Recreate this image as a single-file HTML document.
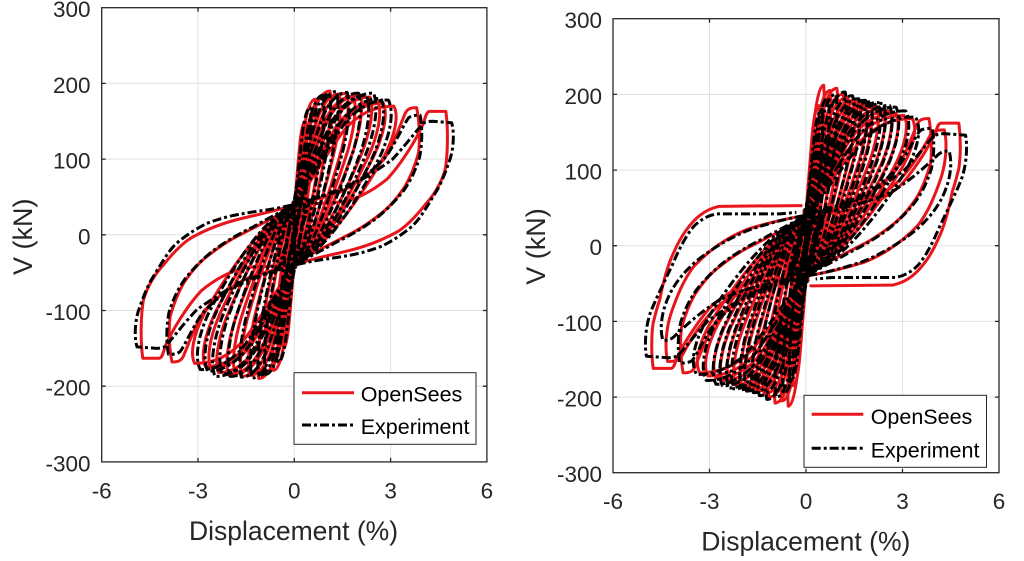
<!DOCTYPE html>
<html>
<head>
<meta charset="utf-8">
<style>
  html,body{margin:0;padding:0;background:#fff;}
  svg{display:block;}
  text{font-family:"Liberation Sans",Arial,sans-serif;fill:#262626;}
  .tk{font-size:22.5px;}
  .lab{font-size:26.5px;}
  .ylab{font-size:27px;}
  .leg{font-size:21.5px;fill:#000;}
  .r{fill:none;stroke:#e8161c;stroke-width:3;stroke-linejoin:round;stroke-linecap:round;}
  .k{fill:none;stroke:#000;stroke-width:3;stroke-dasharray:9 3 3 3;stroke-linejoin:round;}
  .grid{stroke:#e0e0e0;stroke-width:1;}
  .ax{fill:none;stroke:#262626;stroke-width:1.3;}
</style>
</head>
<body>
<svg width="1024" height="561" viewBox="0 0 1024 561" xmlns="http://www.w3.org/2000/svg">
<defs>
  <path id="rp" vector-effect="non-scaling-stroke" d="M0,40 C0.1,62 0.3,112 0.5,150 C0.63,172 0.8,185 1,185 C1.05,172 1.02,145 0.9,112 C0.74,72 0.52,25 0.32,-5 C0.2,-22 0.08,-34 0,-40"/>
  <path id="bp" vector-effect="non-scaling-stroke" d="M0,40 C0.12,64 0.33,114 0.53,152 C0.66,173 0.83,186 1,185 C1.06,170 1.03,142 0.92,110 C0.76,68 0.54,22 0.34,-7 C0.22,-24 0.1,-35 0,-40"/>
  <path id="knr" vector-effect="non-scaling-stroke" d="M-0.35,-55 L0.3,55 M-0.2,-60 L0.2,60 M-0.45,-45 L0.1,45 M-0.1,-55 L0.35,45 M-0.6,-50 C-0.3,-20 0,20 0.25,35 M0.05,-42 L-0.05,42"/>
  <path id="knb" vector-effect="non-scaling-stroke" d="M-0.3,-58 L0.28,58 M-0.15,-50 L0.25,52 M-0.5,-48 L0.12,48 M-0.05,-58 L0.38,40 M0.02,-45 L-0.02,45"/>
</defs>

<rect width="1024" height="561" fill="#fff"/>

<!-- ============ LEFT PLOT ============ -->
<g>
  <line class="grid" x1="198" y1="7.7" x2="198" y2="461.9"/>
  <line class="grid" x1="294.3" y1="7.7" x2="294.3" y2="461.9"/>
  <line class="grid" x1="390.6" y1="7.7" x2="390.6" y2="461.9"/>
  <line class="grid" x1="101.7" y1="83.4" x2="486.9" y2="83.4"/>
  <line class="grid" x1="101.7" y1="159.1" x2="486.9" y2="159.1"/>
  <line class="grid" x1="101.7" y1="234.8" x2="486.9" y2="234.8"/>
  <line class="grid" x1="101.7" y1="310.5" x2="486.9" y2="310.5"/>
  <line class="grid" x1="101.7" y1="386.2" x2="486.9" y2="386.2"/>

  <g transform="matrix(32.1 0 0 -0.757 294.3 234.8)">
    <g id="redL" class="r">
      <use href="#knr"/>
      <use href="#rp" transform="scale(0.35,0.811)"/>
      <use href="#rp" transform="scale(0.65,0.968)"/>
      <use href="#rp" transform="scale(0.9,0.984)"/>
      <use href="#rp" transform="scale(1.11,1.027)"/>
      <use href="#rp" transform="scale(1.4,1.005)"/>
      <use href="#rp" transform="scale(1.64,1.011)"/>
      <use href="#rp" transform="scale(1.85,0.989)"/>
      <use href="#rp" transform="scale(2.05,1.0)"/>
      <use href="#rp" transform="scale(2.36,0.984)"/>
      <use href="#rp" transform="scale(2.6,0.951)"/>
      <use href="#rp" transform="scale(2.77,0.941)"/>
      <use href="#rp" transform="scale(3.1,0.919)"/>
      <path vector-effect="non-scaling-stroke" d="M0,40 C0.5,45 1.0,50 1.4,56 C1.9,66 2.4,82 2.8,100 C3.1,120 3.3,145 3.45,160 C3.52,166 3.6,168 3.81,168 C3.9,150 3.92,125 3.87,108 C3.75,90 3.6,75 3.45,64 C3.2,48 3.0,38 2.73,29 C2.4,18 2.1,9 1.8,2.5 C1.4,-6 1.1,-13 0.76,-20 C0.5,-26 0.2,-34 0,-40"/>
      <path vector-effect="non-scaling-stroke" d="M0,40 C0.6,41 1.2,42 1.6,44 C2.1,50 2.5,60 2.9,74 C3.3,92 3.8,125 4.03,148 C4.08,156 4.12,162 4.2,163 L4.72,163 C4.8,140 4.78,105 4.7,86 C4.55,65 4.3,50 4.08,40 C3.8,25 3.5,12 3.25,5 C2.8,-6 2.3,-15 1.6,-22 C1.0,-28 0.5,-32 0,-40"/>
    </g>
    <use href="#redL" transform="scale(-1,-1)"/>
    <g id="blkL" class="k">
      <use href="#knb"/>
      <use href="#bp" transform="scale(0.5,0.908)"/>
      <use href="#bp" transform="scale(0.9,0.995)"/>
      <use href="#bp" transform="scale(1.1,1.005)"/>
      <use href="#bp" transform="scale(1.32,1.022)"/>
      <use href="#bp" transform="scale(1.65,1.016)"/>
      <use href="#bp" transform="scale(2.0,1.011)"/>
      <use href="#bp" transform="scale(2.25,0.995)"/>
      <use href="#bp" transform="scale(2.47,1.011)"/>
      <use href="#bp" transform="scale(2.7,0.973)"/>
      <use href="#bp" transform="scale(2.93,0.962)"/>
      <path vector-effect="non-scaling-stroke" d="M0,40 C0.5,46 1.0,52 1.5,60 C2.0,70 2.5,86 2.9,106 C3.2,125 3.4,145 3.55,154 C3.65,158 3.8,158 3.92,158 C4.0,140 3.98,118 3.9,102 C3.75,82 3.6,70 3.4,58 C3.1,42 2.8,30 2.5,20 C2.1,8 1.7,-2 1.3,-10 C0.9,-20 0.5,-28 0,-40"/>
      <path vector-effect="non-scaling-stroke" d="M0,40 C0.3,45 0.6,49 0.86,51 C1.4,60 1.8,67 2.1,73 C2.5,83 2.8,92 3.04,99 C3.4,115 3.7,132 3.93,143 C4.0,148 4.1,150 4.3,150 L4.9,148 C5.0,135 4.96,110 4.81,95 C4.65,75 4.5,62 4.39,55 C4.1,35 3.9,20 3.66,11 C3.3,-2 3.0,-9 2.73,-15 C2.3,-22 1.9,-26 1.59,-28 C1.2,-31 0.8,-33 0.55,-35 L0,-40"/>
    </g>
    <use href="#blkL" transform="scale(-1,-1)"/>
  </g>

  <rect class="ax" x="101.7" y="7.7" width="385.2" height="454.2"/>
  <path class="ax" d="M198,461.9v-4 M294.3,461.9v-4 M390.6,461.9v-4 M198,7.7v4 M294.3,7.7v4 M390.6,7.7v4
    M101.7,83.4h4 M101.7,159.1h4 M101.7,234.8h4 M101.7,310.5h4 M101.7,386.2h4
    M486.9,83.4h-4 M486.9,159.1h-4 M486.9,234.8h-4 M486.9,310.5h-4 M486.9,386.2h-4"/>

  <rect x="294" y="372.7" width="182" height="71.6" fill="#fff" stroke="#262626" stroke-width="1"/>
  <line x1="302" y1="392.7" x2="354" y2="392.7" stroke="#e8161c" stroke-width="3"/>
  <line x1="302" y1="425" x2="354" y2="425" stroke="#000" stroke-width="3" stroke-dasharray="9 3 3 3"/>
  <text class="leg" x="360.7" y="401.7">OpenSees</text>
  <text class="leg" x="360.7" y="434">Experiment</text>

  <g class="tk" text-anchor="end">
    <text x="90.5" y="17.2">300</text>
    <text x="90.5" y="92.9">200</text>
    <text x="90.5" y="168.6">100</text>
    <text x="90.5" y="244.3">0</text>
    <text x="90.5" y="320">-100</text>
    <text x="90.5" y="395.7">-200</text>
    <text x="90.5" y="471.4">-300</text>
  </g>
  <g class="tk" text-anchor="middle">
    <text x="101.7" y="498.3">-6</text>
    <text x="198" y="498.3">-3</text>
    <text x="294.3" y="498.3">0</text>
    <text x="390.6" y="498.3">3</text>
    <text x="486.9" y="498.3">6</text>
  </g>
  <text class="lab" x="293.5" y="540" text-anchor="middle">Displacement (%)</text>
  <text class="ylab" x="0" y="0" text-anchor="middle" transform="translate(32,236.7) rotate(-90)">V (kN)</text>
</g>

<!-- ============ RIGHT PLOT ============ -->
<g>
  <line class="grid" x1="709.5" y1="18.7" x2="709.5" y2="472.7"/>
  <line class="grid" x1="806" y1="18.7" x2="806" y2="472.7"/>
  <line class="grid" x1="902.5" y1="18.7" x2="902.5" y2="472.7"/>
  <line class="grid" x1="613" y1="94.4" x2="999" y2="94.4"/>
  <line class="grid" x1="613" y1="170.1" x2="999" y2="170.1"/>
  <line class="grid" x1="613" y1="245.7" x2="999" y2="245.7"/>
  <line class="grid" x1="613" y1="321.4" x2="999" y2="321.4"/>
  <line class="grid" x1="613" y1="397.1" x2="999" y2="397.1"/>

  <g transform="matrix(32.17 0 0 -0.757 806 245.7)">
    <g id="redR" class="r">
      <use href="#knr"/>
      <use href="#knr" transform="scale(1.3,1.1)"/>
      <use href="#rp" transform="scale(0.4,1.0)"/>
      <use href="#rp" transform="scale(0.55,1.146)"/>
      <use href="#rp" transform="scale(0.75,1.108)"/>
      <use href="#rp" transform="scale(0.96,1.124)"/>
      <use href="#rp" transform="scale(1.15,1.081)"/>
      <use href="#rp" transform="scale(1.3,1.059)"/>
      <use href="#rp" transform="scale(1.5,1.038)"/>
      <use href="#rp" transform="scale(1.65,1.027)"/>
      <use href="#rp" transform="scale(1.85,1.016)"/>
      <use href="#rp" transform="scale(2.0,1.005)"/>
      <use href="#rp" transform="scale(2.2,0.995)"/>
      <use href="#rp" transform="scale(2.4,0.978)"/>
      <use href="#rp" transform="scale(2.6,0.962)"/>
      <use href="#rp" transform="scale(2.8,0.946)"/>
      <use href="#rp" transform="scale(3.05,0.93)"/>
      <use href="#rp" transform="scale(3.3,0.908)"/>
      <path vector-effect="non-scaling-stroke" d="M0,40 C0.5,45 1.0,50 1.4,56 C1.9,66 2.4,82 2.8,100 C3.1,120 3.3,145 3.45,160 C3.52,166 3.6,168 3.82,168 C3.9,150 3.92,125 3.87,108 C3.75,90 3.6,75 3.45,64 C3.2,48 3.0,38 2.73,29 C2.4,18 2.1,9 1.8,2.5 C1.4,-6 1.1,-13 0.76,-20 C0.5,-26 0.2,-34 0,-40"/>
      <path vector-effect="non-scaling-stroke" d="M0,40 C1,48 2,60 2.6,75 C3.2,95 3.6,125 3.85,145 C3.95,152 4.1,153 4.3,153 C4.4,135 4.35,110 4.2,90 C4.0,65 3.8,45 3.5,28 C3.0,5 2.4,-12 1.8,-22 C1.2,-30 0.6,-36 0,-40"/>
      <path vector-effect="non-scaling-stroke" d="M0,40 C0.6,42 1.2,45 1.6,48 C2.1,54 2.5,64 2.9,78 C3.3,96 3.8,128 4.03,150 C4.08,157 4.12,162 4.2,162 L4.75,162 C4.82,140 4.8,115 4.75,102 C4.68,90 4.62,80 4.55,72 C4.45,50 4.3,25 4.1,8 C3.9,-12 3.6,-30 3.3,-40 C3.1,-47 2.9,-50 2.7,-52 L0.15,-53"/>
    </g>
    <use href="#redR" transform="scale(-1,-1)"/>
    <g id="blkR" class="k">
      <use href="#knb"/>
      <use href="#knb" transform="scale(1.3,1.1)"/>
      <use href="#bp" transform="scale(0.5,0.973)"/>
      <use href="#bp" transform="scale(0.7,1.054)"/>
      <use href="#bp" transform="scale(0.93,1.081)"/>
      <use href="#bp" transform="scale(1.22,1.097)"/>
      <use href="#bp" transform="scale(1.45,1.07)"/>
      <use href="#bp" transform="scale(1.64,1.049)"/>
      <use href="#bp" transform="scale(1.85,1.038)"/>
      <use href="#bp" transform="scale(2.0,1.027)"/>
      <use href="#bp" transform="scale(2.25,1.022)"/>
      <use href="#bp" transform="scale(2.4,1.016)"/>
      <use href="#bp" transform="scale(2.6,1.0)"/>
      <use href="#bp" transform="scale(2.8,0.989)"/>
      <use href="#bp" transform="scale(3.1,0.962)"/>
      <use href="#bp" transform="scale(3.4,0.919)"/>
      <path vector-effect="non-scaling-stroke" d="M0,40 C0.5,46 1.0,52 1.5,60 C2.0,70 2.5,86 2.9,106 C3.2,125 3.4,145 3.55,152 C3.65,155 3.8,155 3.92,155 C4.0,138 3.98,118 3.9,102 C3.75,82 3.6,70 3.4,58 C3.1,42 2.8,30 2.5,20 C2.1,8 1.7,-2 1.3,-10 C0.9,-20 0.5,-28 0,-40"/>
      <path vector-effect="non-scaling-stroke" d="M0,40 C1,47 2,58 2.7,72 C3.3,88 3.8,108 4.1,120 C4.2,124 4.3,125 4.45,125 C4.55,110 4.5,90 4.3,70 C4.1,50 3.8,35 3.4,20 C2.9,3 2.3,-12 1.7,-22 C1.1,-30 0.6,-36 0,-40"/>
      <path vector-effect="non-scaling-stroke" d="M0,40 C0.3,45 0.6,49 0.86,51 C1.4,60 1.8,67 2.1,73 C2.5,83 2.8,92 3.04,99 C3.4,115 3.7,132 3.93,143 C4.0,146 4.1,148 4.3,148 L4.96,146 C5.02,133 5.0,110 4.85,90 C4.65,68 4.4,48 4.13,23 C3.95,5 3.75,-12 3.5,-25 C3.3,-34 3.05,-40 2.78,-42 L0.81,-42 L0.3,-44"/>
    </g>
    <use href="#blkR" transform="scale(-1,-1)"/>
  </g>

  <rect class="ax" x="613" y="18.7" width="386" height="454"/>
  <path class="ax" d="M709.5,472.7v-4 M806,472.7v-4 M902.5,472.7v-4 M709.5,18.7v4 M806,18.7v4 M902.5,18.7v4
    M613,94.4h4 M613,170.1h4 M613,245.7h4 M613,321.4h4 M613,397.1h4
    M999,94.4h-4 M999,170.1h-4 M999,245.7h-4 M999,321.4h-4 M999,397.1h-4"/>

  <rect x="804" y="395.3" width="182.5" height="72" fill="#fff" stroke="#262626" stroke-width="1"/>
  <line x1="811.7" y1="414.3" x2="863.3" y2="414.3" stroke="#e8161c" stroke-width="3"/>
  <line x1="811.7" y1="448.3" x2="863.3" y2="448.3" stroke="#000" stroke-width="3" stroke-dasharray="9 3 3 3"/>
  <text class="leg" x="870.7" y="424">OpenSees</text>
  <text class="leg" x="870.7" y="457.5">Experiment</text>

  <g class="tk" text-anchor="end">
    <text x="602" y="28.2">300</text>
    <text x="602" y="103.9">200</text>
    <text x="602" y="179.6">100</text>
    <text x="602" y="255.2">0</text>
    <text x="602" y="330.9">-100</text>
    <text x="602" y="406.6">-200</text>
    <text x="602" y="482.2">-300</text>
  </g>
  <g class="tk" text-anchor="middle">
    <text x="613" y="509.2">-6</text>
    <text x="709.5" y="509.2">-3</text>
    <text x="806" y="509.2">0</text>
    <text x="902.5" y="509.2">3</text>
    <text x="999" y="509.2">6</text>
  </g>
  <text class="lab" x="805.8" y="550.6" text-anchor="middle">Displacement (%)</text>
  <text class="ylab" x="0" y="0" text-anchor="middle" transform="translate(545,246.5) rotate(-90)">V (kN)</text>
</g>
</svg>
</body>
</html>
